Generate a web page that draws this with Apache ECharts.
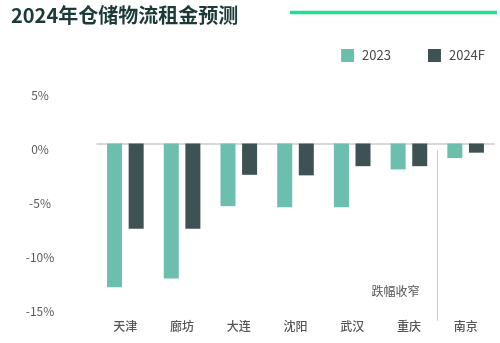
<!DOCTYPE html>
<html><head><meta charset="utf-8">
<script src="https://cdn.jsdelivr.net/npm/echarts@6/dist/echarts.min.js"></script>
<style>html,body{margin:0;padding:0;background:#fff}#c{width:500px;height:343px}</style>
</head><body><div id="c"></div>
<script>
const categories = ['天津','廊坊','大连','沈阳','武汉','重庆','南京'];
const rent2023 = [-13.3, -12.5, -5.8, -5.9, -5.9, -2.4, -1.35];
const rent2024F = [-7.9, -7.9, -2.9, -2.95, -2.1, -2.1, -0.85];
const seriesNames = ['2023', '2024F'];
const titleText = '2024年仓储物流租金预测';
const noteText = '跌幅收窄';
const yTicks = {min: -15, max: 5, interval: 5};

const FONT = '"Noto Sans CJK SC","Noto Sans",sans-serif';
const chart = echarts.init(document.getElementById('c'), null, {renderer: 'canvas'});
chart.setOption({
  animation: false,
  textStyle: {fontFamily: FONT},
  title: {text: titleText, left: 6, top: 0,
    textStyle: {fontSize: 20, fontWeight: 'bold', color: '#1d3b36', fontFamily: FONT}},
  legend: {data: seriesNames, right: 10, top: 44, itemWidth: 13, itemHeight: 13, itemGap: 37,
    icon: 'rect', textStyle: {fontSize: 13, color: '#4a4a4a', padding: [0,0,0,3]}},
  grid: {left: 97, right: 6, top: 89.5, height: 216},
  xAxis: {type: 'category', data: categories,
    axisLine: {show: true, onZero: true, lineStyle: {color: '#cccccc', width: 1.5}},
    axisTick: {show: false},
    axisLabel: {margin: 15, fontSize: 12, color: '#555', fontWeight: 500, verticalAlign: 'top'}
  },
  yAxis: {type: 'value', min: yTicks.min, max: yTicks.max, interval: yTicks.interval,
    axisLine: {show: false}, axisTick: {show: false}, splitLine: {show: false},
    axisLabel: {formatter: '{value}%', align: 'center', margin: 57, fontSize: 12, color: '#5a5a5a', verticalAlign: 'top'}
  },
  series: [
    {name: seriesNames[0], type: 'bar', data: rent2023, barWidth: 15, barGap: '44%', itemStyle: {color: '#6cbfac'}},
    {name: seriesNames[1], type: 'bar', data: rent2024F, barWidth: 15, itemStyle: {color: '#3e5253'}}
  ]
});
// annotation divider between 重庆 and 南京, positioned via the chart's scales
const pA = chart.convertToPixel({gridIndex: 0}, [categories[5], -0.6]);
const pB = chart.convertToPixel({gridIndex: 0}, [categories[6], -16.4]);
const xd = Math.round((pA[0] + pB[0]) / 2) + 0.5;
const pT = chart.convertToPixel({gridIndex: 0}, [categories[5], -13.72]);
chart.setOption({
  graphic: [
    {type: 'line', shape: {x1: 290, y1: 12.5, x2: 497, y2: 12.5}, style: {stroke: '#1fe08c', lineWidth: 3.5}},
    {type: 'line', shape: {x1: xd, y1: pA[1], x2: xd, y2: pB[1]}, style: {stroke: '#cfcfcf', lineWidth: 1.2}},
    {type: 'text', x: xd - 18, y: pT[1], style: {text: noteText, align: 'right', verticalAlign: 'middle',
      fontSize: 12, fill: '#555', fontFamily: FONT}}
  ]
});
</script></body></html>
